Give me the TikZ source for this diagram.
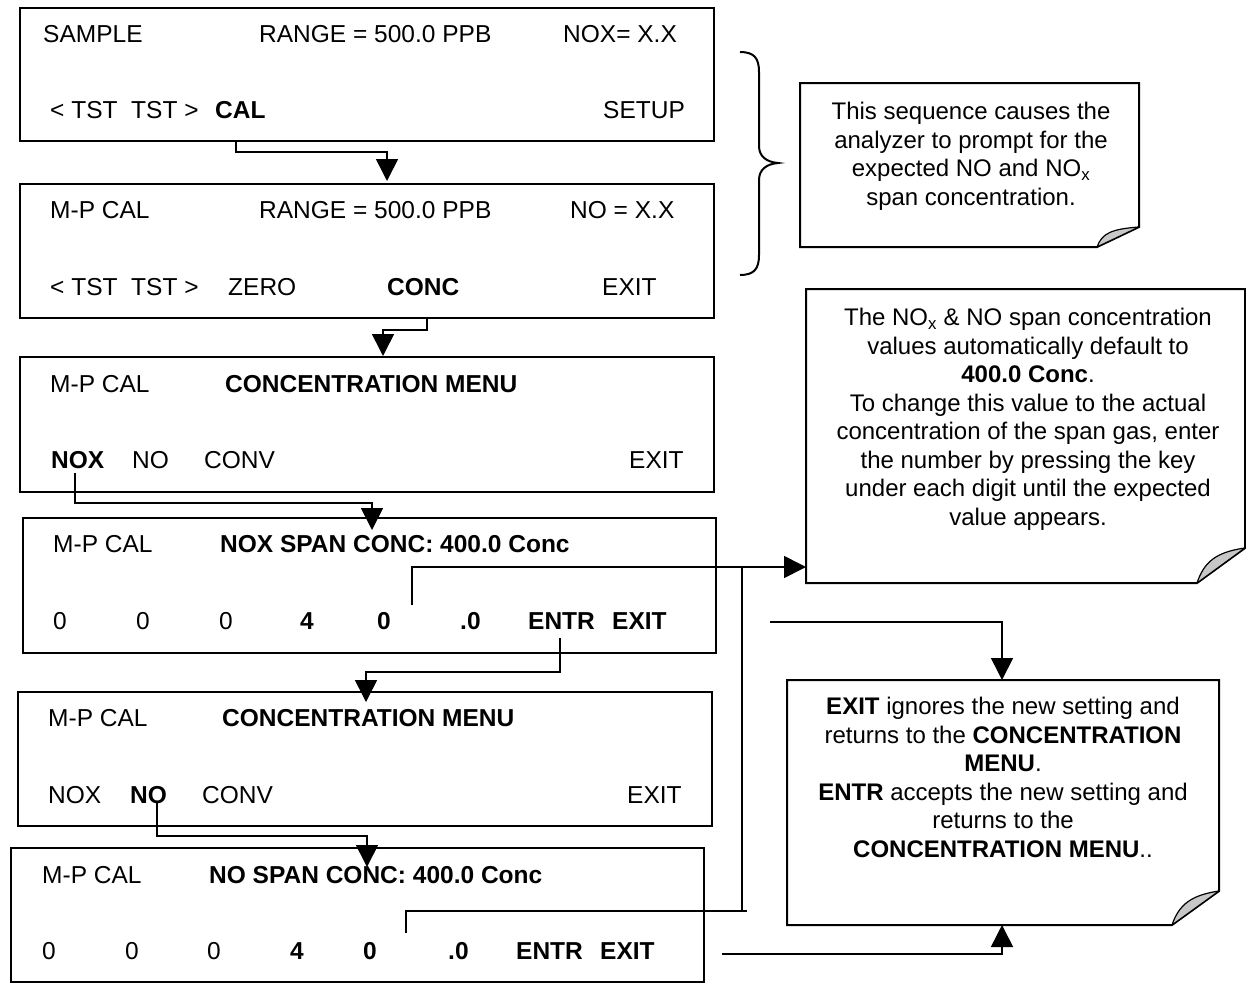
\documentclass[tikz,border=0pt]{standalone}
\usepackage{fontspec}
\setmainfont{Liberation Sans}
\usetikzlibrary{arrows.meta}
\begin{document}
\begin{tikzpicture}[x=1pt,y=-1pt,
  screenbox/.style={draw, line width=2pt, inner sep=0pt, anchor=north west},
  lbl/.style={anchor=base west, inner sep=0pt, font=\fontsize{24.5}{28.5}\selectfont},
  blbl/.style={anchor=base west, inner sep=0pt, font=\fontsize{24.5}{28.5}\selectfont\bfseries},
  notetext/.style={anchor=north, inner sep=0pt, align=center, font=\fontsize{24}{28.5}\selectfont},
  notebox/.style={draw, line width=2pt, fill=white, line join=miter},
  foldstyle/.style={draw, line width=1.2pt, fill=black!22, line join=round},
  conn/.style={line width=1.6pt},
  arr/.style={conn, -{Triangle[length=22pt,width=22pt]}}]
\useasboundingbox (0,0) rectangle (1246,982);

% ---------- screens ----------
\node[screenbox, minimum width=694pt, minimum height=133pt] (b1) at (19,7) {};
\node[screenbox, minimum width=694pt, minimum height=134pt] (b2) at (19,183) {};
\node[screenbox, minimum width=694pt, minimum height=135pt] (b3) at (19,356) {};
\node[screenbox, minimum width=693pt, minimum height=135pt] (b4) at (22,517) {};
\node[screenbox, minimum width=694pt, minimum height=134pt] (b5) at (17,691) {};
\node[screenbox, minimum width=693pt, minimum height=134pt] (b6) at (10,847) {};

% screen 1
\node[lbl] (s1a) at (43,42) {SAMPLE};
\node[lbl] (s1b) at (259,42) {RANGE = 500.0 PPB};
\node[lbl] (s1c) at (563,42) {NOX= X.X};
\node[lbl] (s1d) at (50,118) {< TST\ \ TST >};
\node[blbl] (cal) at (215,118) {CAL};
\node[lbl] (s1f) at (603,118) {SETUP};
% screen 2
\node[lbl] (s2a) at (50,218) {M-P CAL};
\node[lbl] (s2b) at (259,218) {RANGE = 500.0 PPB};
\node[lbl] (s2c) at (570,218) {NO = X.X};
\node[lbl] (s2d) at (50,295) {< TST\ \ TST >};
\node[lbl] (s2e) at (228,295) {ZERO};
\node[blbl] (conc) at (387,295) {CONC};
\node[lbl] (s2g) at (602,295) {EXIT};
% screen 3
\node[lbl] (s3a) at (50,392) {M-P CAL};
\node[blbl] (s3b) at (225,392) {CONCENTRATION MENU};
\node[blbl] (nox) at (51,468) {NOX};
\node[lbl] (s3d) at (132,468) {NO};
\node[lbl] (s3e) at (204,468) {CONV};
\node[lbl] (s3f) at (629,468) {EXIT};
% screen 4
\node[lbl] (s4a) at (53,552) {M-P CAL};
\node[blbl] (s4b) at (220,552) {NOX SPAN CONC: 400.0 Conc};
\node[lbl] (s4c) at (53,629) {0};
\node[lbl] (s4d) at (136,629) {0};
\node[lbl] (s4e) at (219,629) {0};
\node[blbl] (s4f) at (300,629) {4};
\node[blbl] (s4g) at (377,629) {0};
\node[blbl] (s4h) at (460,629) {.0};
\node[blbl] (entr4) at (528,629) {ENTR};
\node[blbl] (exit4) at (612,629) {EXIT};
% screen 5
\node[lbl] (s5a) at (48,726) {M-P CAL};
\node[blbl] (s5b) at (222,726) {CONCENTRATION MENU};
\node[lbl] (s5c) at (48,803) {NOX};
\node[blbl] (no5) at (130,803) {NO};
\node[lbl] (s5e) at (202,803) {CONV};
\node[lbl] (s5f) at (627,803) {EXIT};
% screen 6
\node[lbl] (s6a) at (42,883) {M-P CAL};
\node[blbl] (s6b) at (209,883) {NO SPAN CONC: 400.0 Conc};
\node[lbl] (s6c) at (42,959) {0};
\node[lbl] (s6d) at (125,959) {0};
\node[lbl] (s6e) at (207,959) {0};
\node[blbl] (s6f) at (290,959) {4};
\node[blbl] (s6g) at (363,959) {0};
\node[blbl] (s6h) at (448,959) {.0};
\node[blbl] (entr6) at (516,959) {ENTR};
\node[blbl] (exit6) at (600,959) {EXIT};

% ---------- brace ----------
\draw[line width=2pt] (740,52) .. controls (754,52) and (759,58) .. (759,72)
  -- (759,146) .. controls (759,156) and (766,162) .. (778,163)
  .. controls (766,164) and (759,170) .. (759,180)
  -- (759,255) .. controls (759,269) and (754,275) .. (740,275);

% ---------- notes ----------
\draw[notebox] (800,83) -- (1139,83) -- (1139,227) -- (1097,247) -- (800,247) -- cycle;
\draw[foldstyle] (1097,247) -- (1139,227) .. controls (1112,229) and (1102,233) .. (1097,247) -- cycle;
\node[notetext] (n1) at (971,102) {This sequence causes the\\analyzer to prompt for the\\expected NO and NO\textsubscript{x}\\span concentration.};

\draw[notebox] (806,289) -- (1245,289) -- (1245,548) -- (1197,583) -- (806,583) -- cycle;
\draw[foldstyle] (1197,583) -- (1245,548) .. controls (1216,552) and (1204,562) .. (1197,583) -- cycle;
\node[notetext] (n2) at (1028,308) {The NO\textsubscript{x} \& NO span concentration\\values automatically default to\\\textbf{400.0 Conc}.\\To change this value to the actual\\concentration of the span gas, enter\\the number by pressing the key\\under each digit until the expected\\value appears.};
\coordinate (n2w) at (806,567);

\draw[notebox] (787,680) -- (1219,680) -- (1219,891) -- (1172,925) -- (787,925) -- cycle;
\draw[foldstyle] (1172,925) -- (1219,891) .. controls (1192,895) and (1179,904) .. (1172,925) -- cycle;
\node[notetext] (n3) at (1003,697) {\textbf{EXIT} ignores the new setting and\\returns to the \textbf{CONCENTRATION}\\\textbf{MENU}.\\\textbf{ENTR} accepts the new setting and\\returns to the\\\textbf{CONCENTRATION MENU}..};
\coordinate (n3n) at (1002,680);
\coordinate (n3s) at (1002,925);

% ---------- connectors ----------
\coordinate (calb) at (236,140);
\draw[arr] (calb) -- (236,152) -- (387,152) -- (387,181);
\draw[arr] (427,317) -- (427,330) -- (383,330) -- (383,356);
\draw[arr] (75,473) -- (75,503) -- (372,503) -- (372,530);
\draw[arr] (412,605) -- (412,567) -- (n2w);
\draw[conn] (742,567) -- (742,911);
\draw[conn] (406,933) -- (406,911) -- (747,911);
\draw[arr] (560,638) -- (560,672) -- (366,672) -- (366,702);
\draw[arr] (157,803) -- (157,836) -- (367,836) -- (367,867);
\draw[arr] (770,622) -- (1002,622) -- (n3n);
\draw[arr] (722,954) -- (1002,954) -- (n3s);
\end{tikzpicture}
\end{document}
